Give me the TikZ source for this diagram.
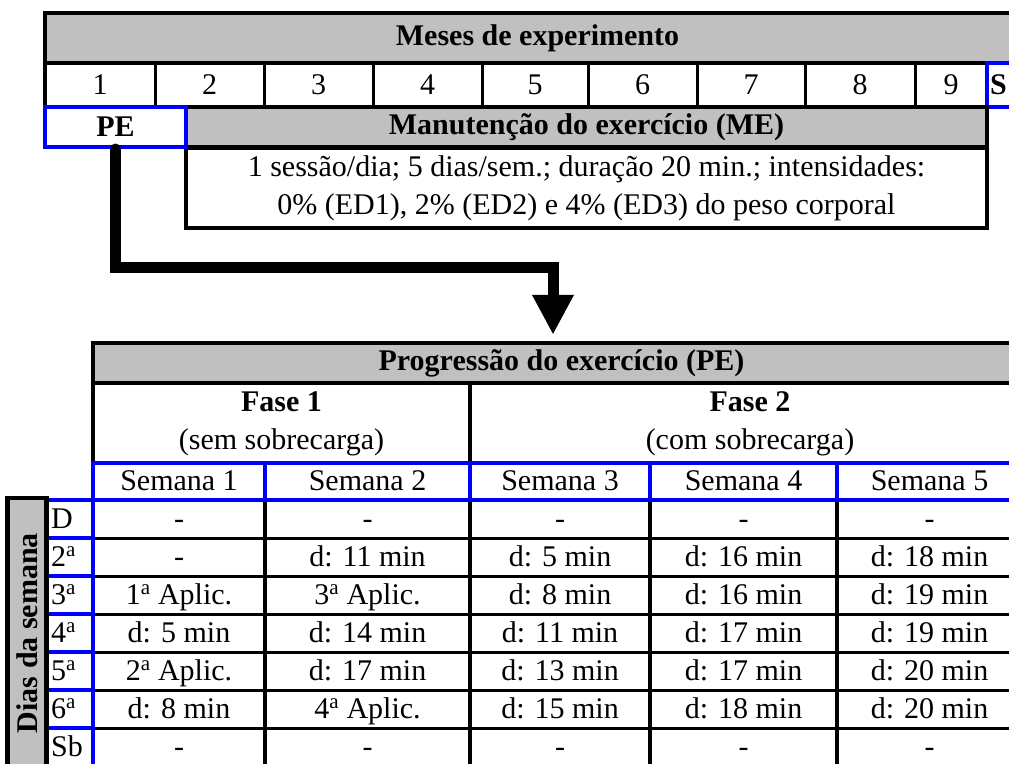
\documentclass[tikz,border=0pt]{standalone}
\usepackage{fontspec}
\setmainfont{Liberation Serif}
\usetikzlibrary{arrows.meta,calc}

\definecolor{cellgrey}{RGB}{192,192,192}
\definecolor{lineblue}{RGB}{0,0,255}
\newcommand{\ordA}{\textsuperscript{a}}

\begin{document}
\begin{tikzpicture}[
    x=1pt, y=-1pt,
    txt/.style={font=\fontsize{30}{38}\selectfont, inner sep=0pt, align=center},
    hdr/.style={font=\fontsize{30}{38}\selectfont\bfseries, inner sep=0pt, align=center},
    cell/.style={txt, text height=21pt, text depth=3pt},
    frame/.style={draw=black, line width=4.5pt},
    rule/.style={draw=black, line width=3pt},
    bluerule/.style={draw=lineblue, line width=4pt},
    flow/.style={line width=11pt, line cap=round, -{Triangle[length=40pt,width=39pt]}},
]
\useasboundingbox (0,0) rectangle (1009,763);
\clip (0,0) rectangle (1009,763);

% Months of the experiment
\node[hdr, fill=cellgrey, frame, minimum width=985, minimum height=50] (meses) at (537.5,38) {Meses de experimento};
\draw[frame] (45,63) rectangle (987,107);
\foreach \x in {155,264,373,482,588,697,805,915} {
    \draw[rule] (\x,63) -- (\x,107);
}
\foreach \n/\x in {1/100,2/209.5,3/318.5,4/427.5,5/535,6/642.5,7/751,8/860,9/951} {
    \node[cell] (mes\n) at (\x,85) {\n};
}
\node[hdr, bluerule, minimum width=50, minimum height=44, text width=44, align=left] (mesS) at (1012,85) {S};

% Maintenance block
\node[hdr, fill=cellgrey, frame, minimum width=801, minimum height=40] (manut) at (586.5,127) {Manutenção do exercício (ME)};
\node[txt, frame, minimum width=801, minimum height=80] (desc) at (586.5,188)
    {1 sessão/dia; 5 dias/sem.; duração 20 min.; intensidades:\\0\% (ED1), 2\% (ED2) e 4\% (ED3) do peso corporal};
\node[hdr, fill=white, bluerule, minimum width=141, minimum height=40] (pe) at (115.5,127) {PE};

% Progression block
\node[hdr, fill=cellgrey, frame, minimum width=937, minimum height=40] (prog) at (561.5,363) {Progressão do exercício (PE)};
\node[txt, minimum width=377, minimum height=80] (fase1) at (281.5,424) {\textbf{Fase 1}\\(sem sobrecarga)};
\node[txt, minimum width=560, minimum height=80] (fase2) at (750,424) {\textbf{Fase 2}\\(com sobrecarga)};
\draw[frame] (93,383) rectangle (1030,463);
\draw[frame] (470,383) -- (470,463);

% Connector
\coordinate (bend) at (553,267);
\draw[flow, shorten >=6pt] (pe.south) |- (bend) -- (bend |- prog.north);

% Week headers
\foreach \w/\x in {1/179,2/367.5,3/560,4/743.5,5/929.5} {
    \node[cell] (sem\w) at (\x,481.5) {Semana \w};
}

% Grid lines
\foreach \y in {538,576,614,652,690,728} {
    \draw[rule] (93,\y) -- (1030,\y);
}
\foreach \x in {265,470,650,837} {
    \draw[frame] (\x,500) -- (\x,770);
}
\draw[bluerule] (91,463) -- (1030,463);
\draw[bluerule] (45,500) -- (1030,500);
\foreach \x in {93,265,470,650,837} {
    \draw[bluerule] (\x,463) -- (\x,500);
}
\foreach \y in {538,576,614,652,690,728} {
    \draw[bluerule] (47,\y) -- (93,\y);
}
\draw[bluerule] (47,498) -- (47,770);
\draw[bluerule] (93,498) -- (93,770);

% Days of the week
\node[hdr, fill=cellgrey, frame, rotate=90, minimum width=270, minimum height=39] (dias) at (27,633) {Dias da semana};
\foreach \i/\dd/\colA/\colB/\colC/\colD/\colE in {
    1/D/-/-/-/-/-,
    2/2\ordA/-/{d: 11 min}/{d: 5 min}/{d: 16 min}/{d: 18 min},
    3/3\ordA/{1\ordA{} Aplic.}/{3\ordA{} Aplic.}/{d: 8 min}/{d: 16 min}/{d: 19 min},
    4/4\ordA/{d: 5 min}/{d: 14 min}/{d: 11 min}/{d: 17 min}/{d: 19 min},
    5/5\ordA/{2\ordA{} Aplic.}/{d: 17 min}/{d: 13 min}/{d: 17 min}/{d: 20 min},
    6/6\ordA/{d: 8 min}/{4\ordA{} Aplic.}/{d: 15 min}/{d: 18 min}/{d: 20 min},
    7/Sb/-/-/-/-/-} {
    \node[cell, anchor=west] (day\i) at (51,481+38*\i) {\dd};
    \node[cell] (c\i-1) at (179,481+38*\i) {\colA};
    \node[cell] (c\i-2) at (367.5,481+38*\i) {\colB};
    \node[cell] (c\i-3) at (560,481+38*\i) {\colC};
    \node[cell] (c\i-4) at (743.5,481+38*\i) {\colD};
    \node[cell] (c\i-5) at (929.5,481+38*\i) {\colE};
}

\end{tikzpicture}
\end{document}
